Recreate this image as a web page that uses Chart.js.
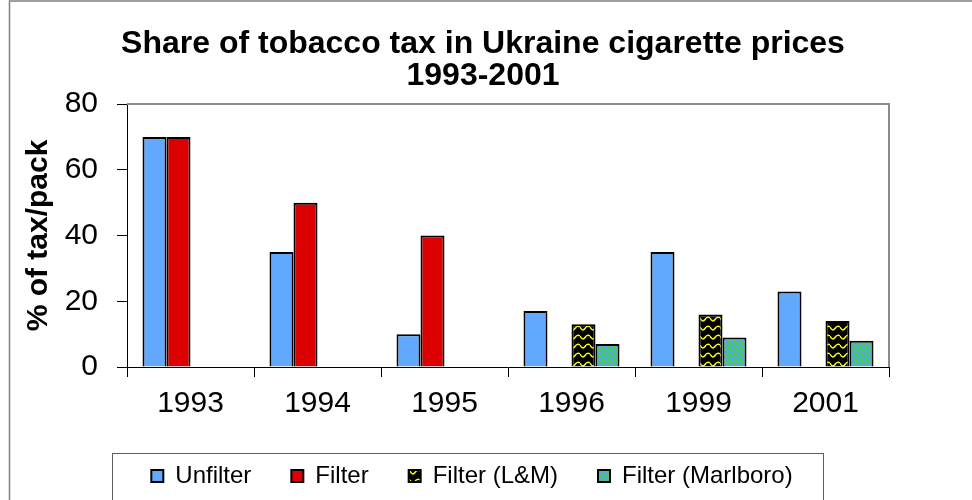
<!DOCTYPE html>
<html>
<head>
<meta charset="utf-8">
<script src="https://cdn.jsdelivr.net/npm/chart.js@4"></script>
<style>
  html, body { margin: 0; padding: 0; background: #fff; }
  canvas { display: block; }
</style>
</head>
<body>
<canvas id="c" width="972" height="500"></canvas>
<script>
// ---- data ----
const titleLines = ['Share of tobacco tax in Ukraine cigarette prices', '1993-2001'];
const yAxisTitle = '% of tax/pack';
const categories = ['1993', '1994', '1995', '1996', '1999', '2001'];
const seriesNames = ['Unfilter', 'Filter', 'Filter (L&M)', 'Filter (Marlboro)'];
const unfilter = [70, 35, 10, 17, 35, 23];
const filter = [70, 50, 40, null, null, null];
const filterLM = [null, null, null, 13, 16, 14];
const filterMarlboro = [null, null, null, 7, 9, 8];
const yTicks = [0, 20, 40, 60, 80];

// ---- patterns ----
function makeWavePattern() {
  const c = document.createElement('canvas');
  c.width = 10; c.height = 9;
  const g = c.getContext('2d');
  g.fillStyle = '#000';
  g.fillRect(0, 0, 10, 9);
  g.strokeStyle = '#ffff00';
  g.lineWidth = 1.5;
  g.beginPath();
  g.moveTo(0, 3);
  g.quadraticCurveTo(2.5, 8, 5, 4.5);
  g.quadraticCurveTo(7.5, 1, 10, 3);
  g.stroke();
  return g.createPattern(c, 'repeat');
}
function makeWeavePattern() {
  const c = document.createElement('canvas');
  c.width = 6; c.height = 6;
  const g = c.getContext('2d');
  g.fillStyle = '#3fd05e';
  g.fillRect(0, 0, 6, 6);
  g.fillStyle = '#5c9fe0';
  const px = [[0,0],[1,1],[3,1],[2,2],[5,3],[0,4],[4,4],[3,5]];
  px.forEach(p => g.fillRect(p[0], p[1], 1, 1));
  return g.createPattern(c, 'repeat');
}

const FONT = "'Liberation Sans', Arial, sans-serif";
Chart.defaults.font.family = FONT;
Chart.defaults.color = '#000';

const decor = {
  id: 'decor',
  beforeDraw(chart) {
    const ctx = chart.ctx;
    ctx.save();
    ctx.fillStyle = '#fff';
    ctx.fillRect(0, 0, chart.width, chart.height);
    ctx.strokeStyle = '#808080';
    ctx.lineWidth = 1.5;
    ctx.beginPath();
    ctx.moveTo(9.5, chart.height);
    ctx.lineTo(9.5, 1);
    ctx.lineTo(chart.width, 1);
    ctx.stroke();
    ctx.restore();
  },
  afterLayout(chart) {
    const t = chart.titleBlock;
    if (t) { const s = 483 - (t.left + t.right) / 2; t.left += s; t.right += s; }
    const l = chart.legend;
    if (l) { const s = 472 - (l.left + l.right) / 2; l.left += s; l.right += s; }
  },
  afterDatasetsDraw(chart) {
    const a = chart.chartArea;
    const ctx = chart.ctx;
    ctx.save();
    ctx.strokeStyle = '#8a8a8a';
    ctx.lineWidth = 2;
    ctx.beginPath();
    ctx.moveTo(a.left, a.top);
    ctx.lineTo(a.right, a.top);
    ctx.lineTo(a.right, a.bottom);
    ctx.stroke();
    ctx.restore();
  },
  afterDraw(chart) {
    const ctx = chart.ctx;
    ctx.save();
    ctx.strokeStyle = '#606060';
    ctx.lineWidth = 1;
    ctx.strokeRect(112.5, 453.5, 711, 60);
    ctx.restore();
  }
};

const common = { borderColor: '#000', borderWidth: 2 };

new Chart(document.getElementById('c'), {
  type: 'bar',
  data: {
    labels: categories,
    datasets: [
      Object.assign({ label: seriesNames[0], data: unfilter, backgroundColor: '#62a8ff' }, common),
      Object.assign({ label: seriesNames[1], data: filter, backgroundColor: '#dd0000' }, common),
      Object.assign({ label: seriesNames[2], data: filterLM, backgroundColor: makeWavePattern() }, common),
      Object.assign({ label: seriesNames[3], data: filterMarlboro, backgroundColor: makeWeavePattern() }, common)
    ]
  },
  options: {
    responsive: false,
    animation: false,
    devicePixelRatio: 1,
    datasets: { bar: { categoryPercentage: 0.756, barPercentage: 1 } },
    layout: { padding: { left: 10, right: 83, top: 0, bottom: 2 } },
    plugins: {
      tooltip: { enabled: false },
      title: {
        display: true,
        text: titleLines,
        font: { size: 32, weight: 'bold', lineHeight: 1 },
        color: '#000',
        padding: { top: 28.5, bottom: 11.5 }
      },
      legend: {
        position: 'bottom',
        labels: {
          boxWidth: 12,
          boxHeight: 12,
          padding: 40,
          font: { size: 24 },
          color: '#000'
        }
      }
    },
    scales: {
      x: {
        grid: { offset: true, drawOnChartArea: false, drawTicks: true, tickLength: 10, color: '#000' },
        border: { display: true, color: '#000', width: 1 },
        ticks: { font: { size: 30 }, padding: 9, color: '#000', maxRotation: 0 },
        afterFit(s) { s.height = 57; }
      },
      y: {
        min: 0,
        max: 80,
        afterBuildTicks(s) { s.ticks = yTicks.map(v => ({ value: v })); },
        grid: { drawOnChartArea: false, drawTicks: true, tickLength: 10, color: '#000' },
        border: { display: true, color: '#000', width: 1 },
        ticks: { font: { size: 30 }, padding: 19, color: '#000' },
        title: {
          display: true,
          text: yAxisTitle,
          font: { size: 30, weight: 'bold', lineHeight: 1.2 },
          color: '#000',
          padding: { top: 11, bottom: 0 }
        },
        afterFit(s) { s.width = 117; }
      }
    }
  },
  plugins: [decor]
});
</script>
</body>
</html>
